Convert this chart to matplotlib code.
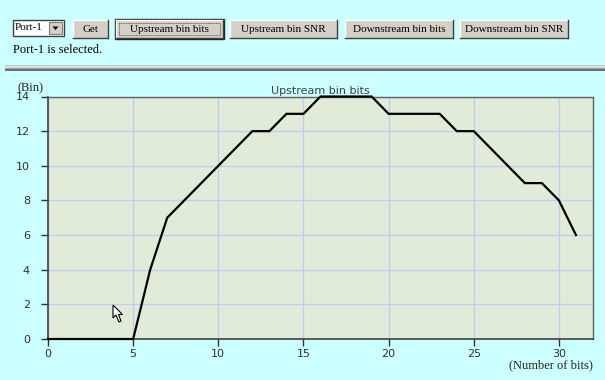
import numpy as np
import matplotlib.pyplot as plt
from matplotlib.patches import Rectangle, Polygon

# bits loaded on each upstream bin
bins = np.arange(0, 32)
bits = [0, 0, 0, 0, 0, 0, 4, 7, 8, 9, 10, 11, 12, 12, 13, 13,
        14, 14, 14, 14, 13, 13, 13, 13, 12, 12, 11, 10, 9, 9, 8, 6]

x_ticks = [0, 5, 10, 15, 20, 25, 30]
y_ticks = [0, 2, 4, 6, 8, 10, 12, 14]
buttons = ["Upstream bin bits", "Upstream bin SNR",
           "Downstream bin bits", "Downstream bin SNR"]
button_x = [116, 230, 345, 460]
button_w = [107, 107, 108, 108]

W, H = 605, 380
page_bg = "#ccffff"
plot_bg = "#e0ecd9"
grid_col = "#c4cdee"
btn_face = "#d4d0c8"
serif = ["Liberation Serif", "DejaVu Serif"]

fig = plt.figure(figsize=(W / 100, H / 100), dpi=100)
fig.patch.set_facecolor(page_bg)

# page layer in pixel coordinates (y grows downwards)
ui = fig.add_axes([0, 0, 1, 1], zorder=-1)
ui.set_xlim(0, W)
ui.set_ylim(H, 0)
ui.axis("off")


def button(x, y, w, h, label, pressed=False):
    ui.add_patch(Rectangle((x, y), w, h, facecolor=btn_face, edgecolor="none"))
    ui.plot([x, x + w], [y, y], color="white", lw=1)
    ui.plot([x, x], [y, y + h], color="white", lw=1)
    ui.plot([x, x + w], [y + h, y + h], color="#404040", lw=1)
    ui.plot([x + w, x + w], [y, y + h], color="#404040", lw=1)
    if pressed:
        ui.add_patch(Rectangle((x - 1, y - 1), w + 2, h + 2, facecolor="none",
                               edgecolor="#202020", lw=1))
        ui.add_patch(Rectangle((x + 3, y + 3), w - 6, h - 6, facecolor="none",
                               edgecolor="#404040", lw=0.6, ls=(0, (1, 1))))
    ui.text(x + w / 2, y + h / 2 + 0.5, label, ha="center", va="center",
            fontsize=8, family=serif, color="black")


# port selector
ui.add_patch(Rectangle((13, 20), 51, 16, facecolor="white", edgecolor="#404040", lw=1))
ui.text(15, 28, "Port-1", ha="left", va="center", fontsize=8, family=serif)
ui.add_patch(Rectangle((49, 22), 13, 12, facecolor=btn_face, edgecolor="#808080", lw=0.8))
ui.add_patch(Polygon([[52.5, 26.5], [58.5, 26.5], [55.5, 30]], closed=True,
                     facecolor="black", edgecolor="none"))

button(73, 20, 35, 18, "Get")
for i, lab in enumerate(buttons):
    button(button_x[i], 20, button_w[i], 18, lab, pressed=(i == 0))

ui.text(13, 50, "Port-1 is selected.", ha="left", va="center", fontsize=9, family=serif)

# separator bar
for yy, col in [(66, "#b8b8b8"), (67, "#f0f0f0"), (68.2, "#c8c8c8"),
                (69.3, "#a0a0a0"), (70.4, "#505050")]:
    ui.plot([5, W], [yy, yy], color=col, lw=1.1, solid_capstyle="butt")

# chart title, its lower edge hidden
title = ui.text(320, 93.5, "Upstream bin bits", ha="center", va="baseline",
                fontsize=8, color="#404040")
clip = Rectangle((0, 0), W, 91.5, transform=ui.transData)
title.set_clip_path(clip)

ui.text(17, 91, "(Bin)", ha="left", va="baseline", fontsize=9, family=serif, color="#222222")
ui.text(593, 368, "(Number of bits)", ha="right", va="baseline", fontsize=9,
        family=serif, color="#222222")

# the chart itself
left, right, top, bottom = 48, 593, 96.5, 339
ax = fig.add_axes([left / W, 1 - bottom / H, (right - left) / W, (bottom - top) / H])
ax.set_facecolor(plot_bg)
ax.plot(bins, bits, color="black", lw=1.6, solid_joinstyle="miter", clip_on=False, zorder=3)
ax.set_xlim(0, 32)
ax.set_ylim(0, 14)
ax.set_xticks(x_ticks)
ax.set_yticks(y_ticks)
ax.grid(True, color=grid_col, lw=1)
ax.set_axisbelow(True)
ax.tick_params(direction="out", length=5, width=1, color="#303030",
               labelsize=8, labelcolor="#303030")
ax.tick_params(axis="y", pad=8)
ax.tick_params(axis="x", pad=2.5)
for side in ["left", "bottom"]:
    ax.spines[side].set_color("#404040")
    ax.spines[side].set_linewidth(1.2)
for side in ["top", "right"]:
    ax.spines[side].set_color("#606060")
    ax.spines[side].set_linewidth(1)

# mouse pointer resting over the plot
cursor = Polygon([[113, 305], [113, 318], [116, 315], [119, 322], [121, 321],
                  [118.5, 314.5], [122.5, 314.5]], closed=True,
                 facecolor="white", edgecolor="black", lw=0.8,
                 transform=ui.transData, zorder=10)
fig.add_artist(cursor)

fig.savefig("out.png", dpi=100, facecolor=page_bg)
